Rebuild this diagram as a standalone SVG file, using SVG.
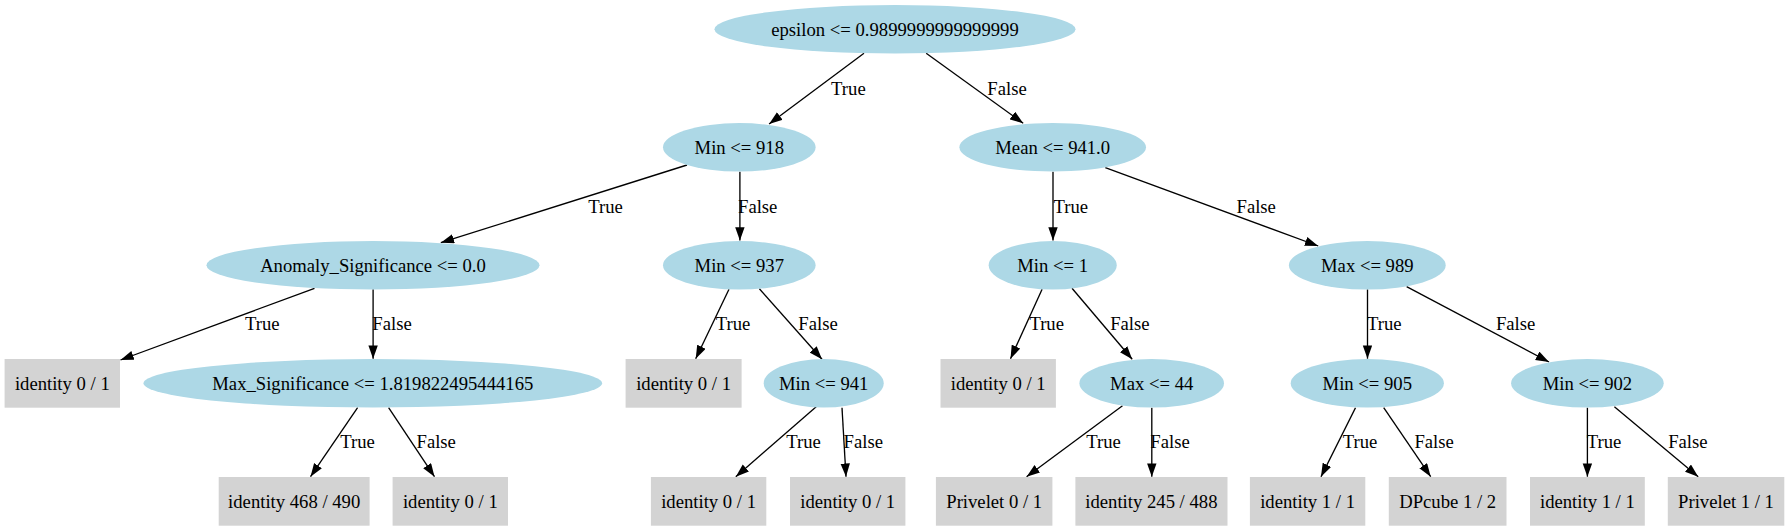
<svg xmlns="http://www.w3.org/2000/svg" width="1790" height="531" viewBox="0 0 1790 531">
<style>
.e{fill:#add8e6;stroke:none}
.b{fill:#d3d3d3;stroke:none}
text{font-family:"Liberation Serif","Times New Roman",serif;font-size:18.67px;fill:#000;text-anchor:middle}
.c line{stroke:#000;stroke-width:1.33;marker-end:url(#ah)}
</style>
<defs>
<marker id="ah" markerUnits="userSpaceOnUse" markerWidth="14" markerHeight="10" refX="13.3" refY="4.7" orient="auto">
<path d="M0,0 L13.3,4.7 L0,9.4 z" fill="#000"/>
</marker>
</defs>
<rect width="1790" height="531" fill="#fff"/>
<g class="c" id="connectors">
<line x1="864" y1="53.3" x2="769.1" y2="124"/>
<text x="848.4" y="94.5">True</text>
<line x1="926.2" y1="53.3" x2="1023.2" y2="123.3"/>
<text x="1007" y="94.5">False</text>
<line x1="687" y1="165" x2="440.8" y2="242.7"/>
<text x="605.6" y="212.5">True</text>
<line x1="739.9" y1="171.7" x2="739.9" y2="240.5"/>
<text x="757.7" y="212.5">False</text>
<line x1="1053" y1="171.7" x2="1053" y2="240.5"/>
<text x="1070.8" y="212.5">True</text>
<line x1="1105.3" y1="167.7" x2="1318.2" y2="246"/>
<text x="1256.2" y="212.5">False</text>
<line x1="314.5" y1="288.3" x2="120.5" y2="360"/>
<text x="262.3" y="330.2">True</text>
<line x1="373.1" y1="289.3" x2="373.1" y2="358.7"/>
<text x="392" y="330.2">False</text>
<line x1="729" y1="289.3" x2="695.7" y2="358.7"/>
<text x="733" y="330.2">True</text>
<line x1="759.4" y1="288.7" x2="822" y2="359.3"/>
<text x="818" y="330.2">False</text>
<line x1="1042.1" y1="289.3" x2="1010.5" y2="358.7"/>
<text x="1046.7" y="330.2">True</text>
<line x1="1072" y1="288.3" x2="1132.2" y2="359.3"/>
<text x="1129.9" y="330.2">False</text>
<line x1="1367.5" y1="289.3" x2="1367.5" y2="358.7"/>
<text x="1384.3" y="330.2">True</text>
<line x1="1406.6" y1="286.7" x2="1549" y2="362"/>
<text x="1515.6" y="330.2">False</text>
<line x1="357.6" y1="407.7" x2="310.5" y2="476.7"/>
<text x="357.6" y="448.2">True</text>
<line x1="388.6" y1="407.7" x2="434.5" y2="476.7"/>
<text x="436.2" y="448.2">False</text>
<line x1="816.2" y1="406.7" x2="735.8" y2="476.7"/>
<text x="803.6" y="448.2">True</text>
<line x1="842" y1="407.7" x2="846" y2="476.7"/>
<text x="863.3" y="448.2">False</text>
<line x1="1122.5" y1="405.7" x2="1026.6" y2="476.7"/>
<text x="1103.5" y="448.2">True</text>
<line x1="1151.8" y1="407.7" x2="1151.8" y2="476.7"/>
<text x="1170" y="448.2">False</text>
<line x1="1355.5" y1="407.7" x2="1321" y2="476.7"/>
<text x="1360" y="448.2">True</text>
<line x1="1383.7" y1="407.7" x2="1430.7" y2="476.7"/>
<text x="1434.1" y="448.2">False</text>
<line x1="1587.4" y1="407.7" x2="1587.4" y2="476.7"/>
<text x="1604" y="448.2">True</text>
<line x1="1614.4" y1="406.7" x2="1698.2" y2="476.7"/>
<text x="1687.9" y="448.2">False</text>
</g>
<g id="n0"><ellipse class="e" cx="895" cy="29.3" rx="180.5" ry="24.2"/><text x="895" y="35.5">epsilon &lt;= 0.9899999999999999</text></g>
<g id="n1"><ellipse class="e" cx="739.3" cy="147.3" rx="76.3" ry="24.2"/><text x="739.3" y="153.5">Min &lt;= 918</text></g>
<g id="n2"><ellipse class="e" cx="1052.7" cy="147.3" rx="93.3" ry="24.2"/><text x="1052.7" y="153.5">Mean &lt;= 941.0</text></g>
<g id="n3"><ellipse class="e" cx="373" cy="265.3" rx="166.5" ry="24.2"/><text x="373" y="271.5">Anomaly_Significance &lt;= 0.0</text></g>
<g id="n4"><ellipse class="e" cx="739.3" cy="265.3" rx="76.3" ry="24.2"/><text x="739.3" y="271.5">Min &lt;= 937</text></g>
<g id="n5"><ellipse class="e" cx="1052.7" cy="265.3" rx="64" ry="24.2"/><text x="1052.7" y="271.5">Min &lt;= 1</text></g>
<g id="n6"><ellipse class="e" cx="1367.3" cy="265.3" rx="78.4" ry="24.2"/><text x="1367.3" y="271.5">Max &lt;= 989</text></g>
<g id="n7"><rect class="b" x="4.6" y="359" width="115.4" height="48.7"/><text x="62.3" y="389.5">identity 0 / 1</text></g>
<g id="n8"><ellipse class="e" cx="372.8" cy="383.3" rx="229.3" ry="24.2"/><text x="372.8" y="389.5">Max_Significance &lt;= 1.819822495444165</text></g>
<g id="n9"><rect class="b" x="625.6" y="359" width="116" height="48.7"/><text x="683.6" y="389.5">identity 0 / 1</text></g>
<g id="n10"><ellipse class="e" cx="823.7" cy="383.3" rx="60" ry="24.2"/><text x="823.7" y="389.5">Min &lt;= 941</text></g>
<g id="n11"><rect class="b" x="940.5" y="359" width="115.4" height="48.7"/><text x="998.2" y="389.5">identity 0 / 1</text></g>
<g id="n12"><ellipse class="e" cx="1151.7" cy="383.3" rx="72.3" ry="24.2"/><text x="1151.7" y="389.5">Max &lt;= 44</text></g>
<g id="n13"><ellipse class="e" cx="1367.3" cy="383.3" rx="76.6" ry="24.2"/><text x="1367.3" y="389.5">Min &lt;= 905</text></g>
<g id="n14"><ellipse class="e" cx="1587.4" cy="383.3" rx="76.3" ry="24.2"/><text x="1587.4" y="389.5">Min &lt;= 902</text></g>
<g id="n15"><rect class="b" x="218.7" y="477" width="150.9" height="48.7"/><text x="294.2" y="507.5">identity 468 / 490</text></g>
<g id="n16"><rect class="b" x="392.6" y="477" width="115.4" height="48.7"/><text x="450.3" y="507.5">identity 0 / 1</text></g>
<g id="n17"><rect class="b" x="650.9" y="477" width="115.4" height="48.7"/><text x="708.6" y="507.5">identity 0 / 1</text></g>
<g id="n18"><rect class="b" x="790" y="477" width="115.4" height="48.7"/><text x="847.7" y="507.5">identity 0 / 1</text></g>
<g id="n19"><rect class="b" x="935.9" y="477" width="116.5" height="48.7"/><text x="994.2" y="507.5">Privelet 0 / 1</text></g>
<g id="n20"><rect class="b" x="1075.4" y="477" width="152.1" height="48.7"/><text x="1151.4" y="507.5">identity 245 / 488</text></g>
<g id="n21"><rect class="b" x="1249.9" y="477" width="115.4" height="48.7"/><text x="1307.6" y="507.5">identity 1 / 1</text></g>
<g id="n22"><rect class="b" x="1388.8" y="477" width="117.7" height="48.7"/><text x="1447.7" y="507.5">DPcube 1 / 2</text></g>
<g id="n23"><rect class="b" x="1530" y="477" width="114.8" height="48.7"/><text x="1587.4" y="507.5">identity 1 / 1</text></g>
<g id="n24"><rect class="b" x="1667.8" y="477" width="116.5" height="48.7"/><text x="1726" y="507.5">Privelet 1 / 1</text></g>
</svg>
